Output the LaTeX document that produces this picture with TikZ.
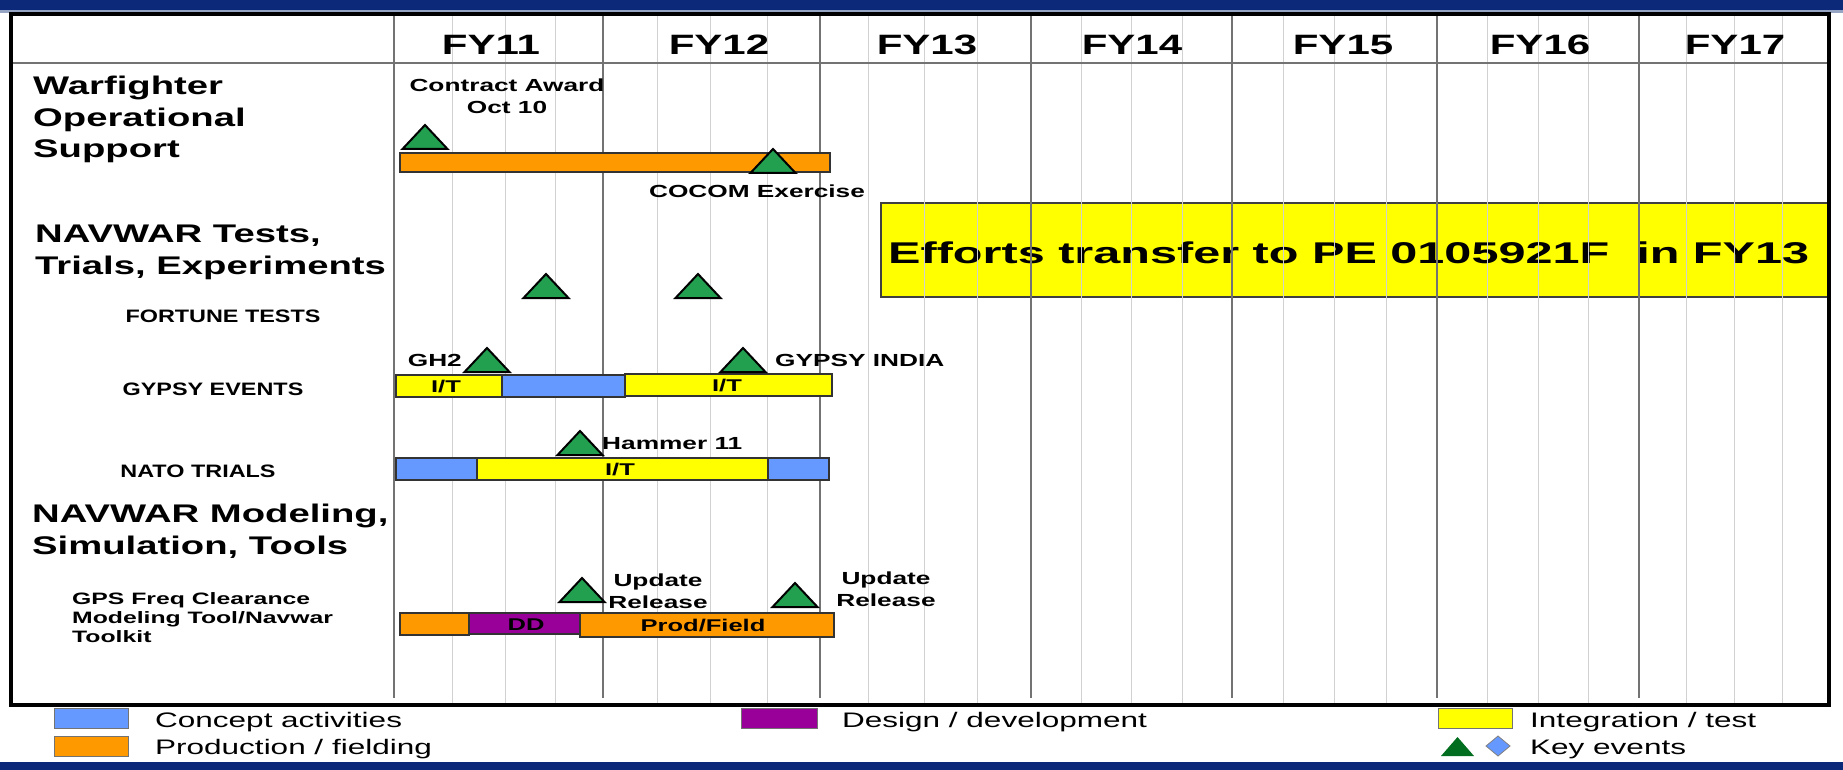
\documentclass[tikz,border=0pt]{standalone}
\usepackage{fontspec}
\setmainfont{Liberation Sans}
\newfontfamily\wideA[FakeStretch=1.5]{Liberation Sans}
\newfontfamily\wideB[FakeStretch=1.3]{Liberation Sans}
\newfontfamily\wideC[FakeStretch=1.62]{Liberation Sans}
\definecolor{navy}{RGB}{12,40,120}
\definecolor{steel}{RGB}{150,165,195}
\definecolor{cblue}{RGB}{102,153,255}
\definecolor{corange}{RGB}{255,153,0}
\definecolor{cyellow}{RGB}{255,255,0}
\definecolor{cpurple}{RGB}{153,0,153}
\definecolor{cgreen}{RGB}{34,160,80}
\definecolor{lgreen}{RGB}{0,110,30}
\tikzset{
  minorline/.style={draw=black!18, line width=1pt},
  majorline/.style={draw=black!55, line width=1.6pt},
  barbox/.style={draw=black!80, line width=1.3pt},
  keytri/.style={draw=black, fill=cgreen, line width=2pt, line join=miter},
  legbox/.style={draw=black!55, line width=1pt},
  fy/.style={font=\wideA\bfseries\fontsize{28}{34}\selectfont, inner sep=0pt, anchor=base},
  grp/.style={font=\wideA\bfseries\fontsize{25.5}{31.5}\selectfont, inner sep=0pt, anchor=north west, align=left},
  sub/.style={font=\wideB\bfseries\fontsize{18}{22}\selectfont, inner sep=0pt, anchor=base},
  evt/.style={font=\wideA\bfseries\fontsize{17.5}{21.5}\selectfont, inner sep=0pt},
  bartxt/.style={font=\wideA\bfseries\fontsize{17}{20}\selectfont, inner sep=0pt, anchor=base},
  legtxt/.style={font=\wideA\fontsize{21}{25}\selectfont, inner sep=0pt, anchor=base west},
}
\newcommand\keyevent[2]{\draw[keytri] (#1-22.5,#2) -- (#1,#2-24) -- (#1+22.5,#2) -- cycle;}
\begin{document}
\begin{tikzpicture}[x=1pt,y=-1pt]
\useasboundingbox (0,0) rectangle (1843,770);
\fill[white] (0,0) rectangle (1843,770);
\fill[navy] (0,0) rectangle (1843,10);
\fill[steel] (0,10) rectangle (1843,13);
\fill[navy] (0,762) rectangle (1843,770);

% transfer box (under the grid)
\draw[fill=cyellow, draw=black!75, line width=1.3pt] (881,203) rectangle (1829,297);
\node[anchor=base west, font=\wideC\bfseries\fontsize{30}{36}\selectfont, inner sep=0pt] (eff) at (888,263) {Efforts transfer to PE 0105921F\ \ in FY13};

% grid
\foreach \x in {452,505,555,657,710,767,868,924,977,1081,1131,1182,1283,1334,1386,1487,1538,1588,1686,1734,1782}
  \draw[minorline] (\x,13) -- (\x,703);
\foreach \x in {394,603,820,1031,1232,1437,1639}
  \draw[majorline] (\x,13) -- (\x,698);
\draw[majorline] (11,63) -- (1829,63);

% frame
\draw[black, line width=4.5pt] (11,14) rectangle (1829,705);

% year labels
\node[fy] (fy11) at (491,55) {FY11};
\node[fy] (fy12) at (719,55) {FY12};
\node[fy] (fy13) at (927,55) {FY13};
\node[fy] (fy14) at (1132,55) {FY14};
\node[fy] (fy15) at (1343,55) {FY15};
\node[fy] (fy16) at (1540,55) {FY16};
\node[fy] (fy17) at (1735,55) {FY17};

% group labels
\node[grp] (g1) at (33,76) {Warfighter\\Operational\\Support};
\node[grp] (g2) at (35,225) {NAVWAR Tests,\\Trials, Experiments};
\node[grp] (g3) at (32,504) {NAVWAR Modeling,\\Simulation, Tools};
\node[sub] (s1) at (223,322) {FORTUNE TESTS};
\node[sub] (s2) at (213,395) {GYPSY EVENTS};
\node[sub] (s3) at (198,477) {NATO TRIALS};
\node[font=\wideA\bfseries\fontsize{16.5}{19.2}\selectfont, inner sep=0pt, anchor=north west, align=left] (s4) at (72,592) {GPS Freq Clearance\\Modeling Tool/Navwar\\Toolkit};

% row 1
\draw[barbox, fill=corange] (400,153) rectangle (830,172);
\keyevent{425}{149}
\keyevent{773}{173}
\node[evt, anchor=north, align=center] (ca) at (507,79) {Contract Award\\Oct 10};
\node[evt, anchor=base] (cocom) at (757,197) {COCOM Exercise};

% fortune
\keyevent{546}{298}
\keyevent{698}{298}

% gypsy
\draw[barbox, fill=cyellow] (396,375) rectangle (502,397);
\draw[barbox, fill=cblue] (502,375) rectangle (625,397);
\draw[barbox, fill=cyellow] (625,374) rectangle (832,396);
\node[bartxt] (it1) at (446,392) {I/T};
\node[bartxt] (it2) at (727,391) {I/T};
\keyevent{487}{372}
\keyevent{743}{372}
\node[evt, anchor=base east] (gh2) at (462,366) {GH2};
\node[evt, anchor=base west] (gi) at (775,366) {GYPSY INDIA};

% nato
\draw[barbox, fill=cblue] (396,458) rectangle (477,480);
\draw[barbox, fill=cyellow] (477,458) rectangle (768,480);
\draw[barbox, fill=cblue] (768,458) rectangle (829,480);
\node[bartxt] (it3) at (620,475) {I/T};
\keyevent{580}{455}
\node[evt, anchor=base west] (ham) at (602,449) {Hammer 11};

% gps tool
\draw[barbox, fill=corange] (400,613) rectangle (469,635);
\draw[barbox, fill=cpurple] (469,613) rectangle (580,634);
\draw[barbox, fill=corange] (580,613) rectangle (834,637);
\node[bartxt] (dd) at (526,630) {DD};
\node[bartxt] (pf) at (703,631) {Prod/Field};
\keyevent{582}{602}
\keyevent{795}{607}
\node[evt, anchor=north, align=center] (ur1) at (658,574) {Update\\Release};
\node[evt, anchor=north, align=center] (ur2) at (886,572) {Update\\Release};

% legend
\draw[legbox, fill=cblue] (54,708) rectangle (128,728);
\node[legtxt] (l1) at (155,727) {Concept activities};
\draw[legbox, fill=corange] (54,736) rectangle (128,756);
\node[legtxt] (l2) at (155,754) {Production / fielding};
\draw[legbox, fill=cpurple] (741,708) rectangle (817,728);
\node[legtxt] (l3) at (842,727) {Design / development};
\draw[legbox, fill=cyellow] (1438,708) rectangle (1512,728);
\node[legtxt] (l4) at (1530,727) {Integration / test};
\fill[lgreen] (1441,756) -- (1457.5,737) -- (1474,756) -- cycle;
\draw[draw=black!50, fill=cblue, line width=0.8pt] (1498,736) -- (1510,746) -- (1498,756) -- (1486,746) -- cycle;
\node[legtxt] (l5) at (1530,754) {Key events};
\end{tikzpicture}
\end{document}
